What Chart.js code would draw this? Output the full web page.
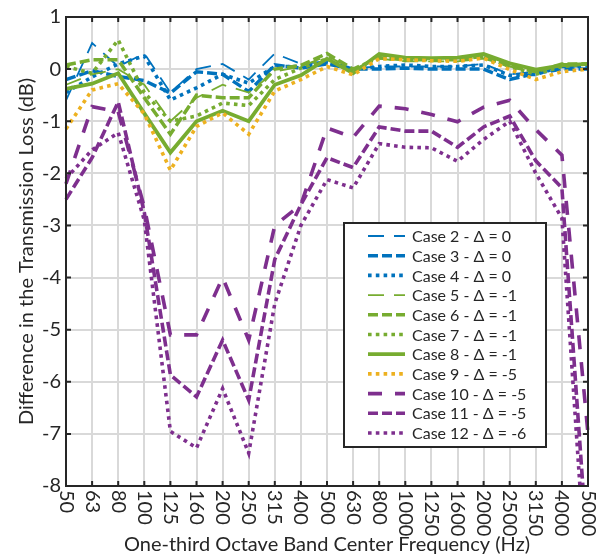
<!DOCTYPE html>
<html>
<head>
<meta charset="utf-8">
<script src="https://cdn.jsdelivr.net/npm/chart.js@4.4.1/dist/chart.umd.min.js"></script>
<style>
  html, body { margin: 0; padding: 0; background: #ffffff; }
  canvas { display: block; }
</style>
</head>
<body>
<canvas id="c" width="605" height="559"></canvas>
<script>
// ---- data ----
const freqLabels = ['50','63','80','100','125','160','200','250','315','400','500','630','800','1000','1250','1600','2000','2500','3150','4000','5000'];
const yTickValues = [1, 0, -1, -2, -3, -4, -5, -6, -7, -8];
const seriesNames = ['Case 2 - \u0394 = 0','Case 3 - \u0394 = 0','Case 4 - \u0394 = 0','Case 5 - \u0394 = -1','Case 6 - \u0394 = -1','Case 7 - \u0394 = -1','Case 8 - \u0394 = -1','Case 9 - \u0394 = -5','Case 10 - \u0394 = -5','Case 11 - \u0394 = -5','Case 12 - \u0394 = -6'];

const case2  = [-0.60, 0.50, 0.05, 0.30, -0.45, 0.00, 0.10, -0.20, 0.30, 0.10, 0.15, 0.02, 0.05, 0.05, 0.05, 0.05, 0.10, -0.10, -0.05, 0.05, 0.05];
const case3  = [-0.20, -0.03, -0.14, -0.22, -0.46, -0.05, -0.10, -0.43, 0.08, 0.02, 0.10, 0.00, 0.00, 0.02, 0.00, 0.00, 0.00, -0.20, -0.08, 0.00, 0.00];
const case4  = [-0.45, -0.15, 0.10, 0.25, -0.59, -0.36, -0.10, -0.27, 0.05, 0.05, 0.12, 0.00, 0.05, 0.08, 0.05, 0.05, 0.08, -0.12, -0.10, 0.05, 0.05];
const case5  = [-0.30, -0.10, 0.00, -0.30, -1.00, -0.55, -0.30, -0.45, -0.05, 0.05, 0.25, 0.00, 0.20, 0.15, 0.15, 0.15, 0.20, 0.05, -0.05, 0.10, 0.10];
const case6  = [0.08, 0.18, 0.18, -0.55, -1.25, -0.50, -0.55, -0.55, 0.00, 0.07, 0.30, 0.00, 0.22, 0.18, 0.18, 0.18, 0.25, 0.05, -0.05, 0.10, 0.10];
const case7  = [0.05, -0.08, 0.56, -0.45, -1.00, -0.90, -0.65, -0.70, -0.20, 0.02, 0.20, -0.05, 0.25, 0.20, 0.20, 0.20, 0.25, 0.05, -0.10, 0.05, 0.10];
const case8  = [-0.38, -0.28, -0.08, -0.85, -1.60, -1.00, -0.80, -1.00, -0.30, -0.12, 0.20, -0.08, 0.29, 0.22, 0.21, 0.22, 0.29, 0.11, -0.01, 0.07, 0.10];
const case9  = [-1.15, -0.40, -0.28, -0.86, -1.94, -1.10, -0.84, -1.25, -0.42, -0.20, 0.05, -0.11, 0.20, 0.18, 0.16, 0.15, 0.21, -0.01, -0.20, -0.05, 0.00];
const case10 = [-2.20, -0.72, -0.82, -2.65, -5.10, -5.10, -4.00, -5.20, -3.00, -2.60, -1.13, -1.31, -0.71, -0.76, -0.87, -1.01, -0.73, -0.60, -1.16, -1.65, -7.00];
const case11 = [-2.50, -1.70, -0.63, -2.75, -5.87, -6.29, -5.20, -6.35, -3.65, -2.60, -1.70, -1.89, -1.11, -1.19, -1.19, -1.50, -1.11, -0.90, -1.76, -2.28, -9.40];
const case12 = [-2.10, -1.55, -1.22, -2.90, -6.95, -7.27, -6.13, -7.37, -4.50, -3.00, -2.12, -2.28, -1.43, -1.50, -1.51, -1.77, -1.35, -1.00, -2.00, -2.86, -10.30];

const allSeries = [case2, case3, case4, case5, case6, case7, case8, case9, case10, case11, case12];

// ---- styles ----
const BLUE = '#0072BD', GREEN = '#77AC30', ORANGE = '#EDB120', PURPLE = '#7E2F8E';
const styles = [
  {c: BLUE,   w: 1.8, d: [16, 10]},
  {c: BLUE,   w: 3.5, d: [10, 4]},
  {c: BLUE,   w: 3.6, d: [3.6, 4.2]},
  {c: GREEN,  w: 1.8, d: [16, 10]},
  {c: GREEN,  w: 3.5, d: [10, 4]},
  {c: GREEN,  w: 3.6, d: [3.6, 4.2]},
  {c: GREEN,  w: 3.8, d: []},
  {c: ORANGE, w: 3.6, d: [3.6, 4.2]},
  {c: PURPLE, w: 3.6, d: [14, 13]},
  {c: PURPLE, w: 3.6, d: [10, 4]},
  {c: PURPLE, w: 3.6, d: [3.6, 4.2]}
];

const FONT = 'Lato, "DejaVu Sans", sans-serif';
const TXT = '#262626';

const datasets = allSeries.map((arr, i) => ({
  label: seriesNames[i],
  data: arr,
  borderColor: styles[i].c,
  backgroundColor: styles[i].c,
  borderWidth: styles[i].w,
  borderDash: styles[i].d,
  borderCapStyle: 'butt',
  borderJoinStyle: 'miter',
  pointRadius: 0,
  tension: 0,
  fill: false,
  order: allSeries.length - i,
  clip: {left: 6, right: 6, top: 0, bottom: 0}
}));

const framePlugin = {
  id: 'frame',
  afterDatasetsDraw(chart) {
    const ctx = chart.ctx;
    const a = chart.chartArea;
    const xs = chart.scales.x, ys = chart.scales.y;
    ctx.save();
    // inner tick marks
    ctx.strokeStyle = TXT;
    ctx.lineWidth = 2;
    ctx.beginPath();
    freqLabels.forEach((lab, i) => {
      const x = xs.getPixelForValue(i);
      ctx.moveTo(x, a.bottom); ctx.lineTo(x, a.bottom - 5);
      ctx.moveTo(x, a.top); ctx.lineTo(x, a.top + 5);
    });
    yTickValues.forEach(v => {
      const y = ys.getPixelForValue(v);
      ctx.moveTo(a.left, y); ctx.lineTo(a.left + 5, y);
      ctx.moveTo(a.right, y); ctx.lineTo(a.right - 5, y);
    });
    ctx.stroke();
    // box
    ctx.lineWidth = 2;
    ctx.strokeRect(a.left, a.top, a.right - a.left, a.bottom - a.top);
    // rotated x tick labels (reading top to bottom)
    ctx.fillStyle = TXT;
    ctx.font = '20px ' + FONT;
    ctx.textAlign = 'left';
    ctx.textBaseline = 'middle';
    freqLabels.forEach((lab, i) => {
      const x = xs.getPixelForValue(i);
      ctx.save();
      ctx.translate(x, a.bottom + 4);
      ctx.rotate(Math.PI / 2);
      ctx.fillText(lab, 0, 0);
      ctx.restore();
    });
    // legend
    const L = 344, T = 223, R = 546, B = 447;
    ctx.fillStyle = '#ffffff';
    ctx.fillRect(L, T, R - L, B - T);
    ctx.strokeStyle = TXT;
    ctx.lineWidth = 2;
    ctx.strokeRect(L, T, R - L, B - T);
    ctx.font = '16px ' + FONT;
    ctx.textBaseline = 'middle';
    chart.data.datasets.forEach((ds, k) => {
      const y = 236 + k * 19.7;
      ctx.save();
      ctx.strokeStyle = ds.borderColor;
      ctx.lineWidth = ds.borderWidth;
      ctx.lineCap = 'butt';
      ctx.setLineDash(ds.borderDash);
      ctx.beginPath();
      ctx.moveTo(368, y); ctx.lineTo(405, y);
      ctx.stroke();
      ctx.restore();
      ctx.fillStyle = TXT;
      ctx.fillText(ds.label, 412, y + 1);
    });
    ctx.restore();
  }
};

new Chart(document.getElementById('c'), {
  type: 'line',
  data: { labels: freqLabels, datasets: datasets },
  options: {
    responsive: false,
    animation: false,
    layout: { padding: { top: 16, right: 17, left: 0, bottom: 0 } },
    plugins: { legend: { display: false }, tooltip: { enabled: false } },
    scales: {
      x: {
        type: 'category',
        offset: false,
        grid: { color: '#d9d9d9', lineWidth: 2, drawTicks: false },
        border: { display: false },
        ticks: { display: false },
        title: { display: true, text: 'One-third Octave Band Center Frequency (Hz)', color: TXT, font: { family: FONT, size: 20 }, padding: { top: 0, bottom: 2 } },
        afterFit(s) { s.height = 73; }
      },
      y: {
        min: -8, max: 1,
        afterBuildTicks(s) { s.ticks = yTickValues.map(v => ({ value: v })); },
        grid: { color: '#d9d9d9', lineWidth: 2, drawTicks: false },
        border: { display: false },
        ticks: { color: TXT, font: { family: FONT, size: 20 }, padding: 5 },
        title: { display: true, text: 'Difference in the Transmission Loss (dB)', color: TXT, font: { family: FONT, size: 20 }, padding: { top: 15, bottom: 0 } },
        afterFit(s) { s.width = 66; }
      }
    }
  },
  plugins: [framePlugin]
});
</script>
</body>
</html>
